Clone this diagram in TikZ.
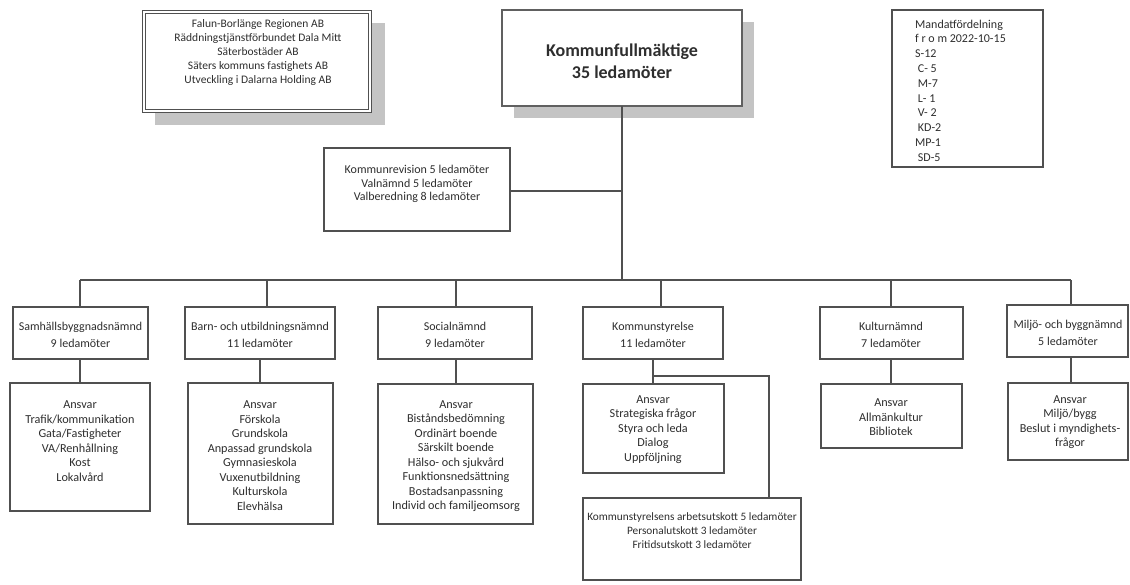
\documentclass[tikz,border=0pt]{standalone}
\usepackage{fontspec}
\setmainfont{Carlito}
\definecolor{linec}{HTML}{505050}
\definecolor{textc}{HTML}{2E2E2E}
\definecolor{shadowc}{HTML}{C4C4C4}
\newcommand\fsub{\fontsize{11.5}{13.8}\selectfont}
\newcommand\frev{\fontsize{12}{13.6}\selectfont}
\newcommand\fkf{\fontsize{18}{22}\selectfont\bfseries}
\newcommand\fcom{\fontsize{12}{17}\selectfont}
\newcommand\fans{\fontsize{12.2}{14.5}\selectfont}
\newcommand\fmand{\fontsize{12}{14.8}\selectfont}
\newcommand\fau{\fontsize{11.3}{14}\selectfont}
\newcommand\mkbox[6][]{\node[boxst,#1,minimum width={#4-#2},minimum height={#5-#3}] (#6) at ({(#2+#4)/2},{(#3+#5)/2}) {};}
\tikzset{
  boxst/.style={draw=linec,line width=1.3pt,fill=white,inner sep=0pt,outer sep=0pt},
  conn/.style={draw=linec,line width=1.3pt},
  txt/.style={text=textc,align=center,inner sep=0pt},
}
\begin{document}
\begin{tikzpicture}[x=1pt,y=-1pt]
\useasboundingbox[fill=white] (0,0) rectangle (1130,584);
% shadows
\fill[shadowc] (155,23) rectangle (385,125);
\fill[shadowc] (514,22) rectangle (754,118);
% top boxes
\mkbox[draw=linec,line width=0.9pt,double=white,double distance=2pt]{144}{12}{370}{111}{sub}
\node[txt,font=\fsub] (subt) at (258,52.5) {Falun-Borlänge Regionen AB\\Räddningstjänstförbundet Dala Mitt\\Säterbostäder AB\\Säters kommuns fastighets AB\\Utveckling i Dalarna Holding AB};
\mkbox[line width=2.6pt,draw=gray!75!black]{502}{10}{742}{106}{kf}
\node[txt,font=\fkf] (kft) at (622,61) {Kommunfullmäktige\\35 ledamöter};
\mkbox{892}{10}{1043}{167}{mand}
\node[txt,font=\fmand,align=left,anchor=west] (mandt) at (915,90.5) {Mandatfördelning\\f r o m 2022-10-15\\S-12\\\ C- 5\\\ M-7\\\ L- 1\\\ V- 2\\\ KD-2\\MP-1\\\ SD-5};
\mkbox{324}{148}{510}{231}{rev}
\node[txt,font=\frev] (revt) at (417,184) {Kommunrevision 5 ledamöter\\Valnämnd 5 ledamöter\\Valberedning 8 ledamöter};
% bus
\coordinate (busl) at (80,280);
\coordinate (busr) at (1071,280);
\coordinate (kfb) at (622,280);
\draw[conn] (kf.south) -- (kfb);
\draw[conn] (busl) -- (busr);
\draw[conn] (rev.east |- 0,191) -- (kf.south |- 0,191);
% committees
\mkbox{13}{307}{148}{359}{c1}
\mkbox{185}{307}{335}{359}{c2}
\mkbox{378}{307}{532}{359}{c3}
\mkbox{583}{307}{723}{359}{c4}
\mkbox{820}{307}{963}{359}{c5}
\mkbox{1007}{305}{1128}{357}{c6}
\node[txt,font=\fcom] (c1t) at (80.5,334.5) {Samhällsbyggnadsnämnd\\9 ledamöter};
\node[txt,font=\fcom] (c2t) at (260,334.5) {Barn- och utbildningsnämnd\\11 ledamöter};
\node[txt,font=\fcom] (c3t) at (455,334.5) {Socialnämnd\\9 ledamöter};
\node[txt,font=\fcom] (c4t) at (653,334.5) {Kommunstyrelse\\11 ledamöter};
\node[txt,font=\fcom] (c5t) at (891,334.5) {Kulturnämnd\\7 ledamöter};
\node[txt,font=\fcom] (c6t) at (1068,332.5) {Miljö- och byggnämnd\\5 ledamöter};
\foreach \bx/\c in {80/c1,267/c2,456/c3,661/c4,891/c5,1071/c6}{
  \coordinate (b\c) at (\bx,280);
  \draw[conn] (b\c) -- (b\c |- \c.north);
}
% ansvar boxes
\mkbox{10}{383}{150}{511}{a1}
\mkbox{188}{383}{333}{524}{a2}
\mkbox{378}{384}{533}{524}{a3}
\mkbox{583}{384}{724}{473}{a4}
\mkbox{821}{384}{962}{448}{a5}
\mkbox{1008}{383}{1128}{460}{a6}
\node[txt,font=\fans] (a1t) at (80,441) {Ansvar\\Trafik/kommunikation\\Gata/Fastigheter\\VA/Renhållning\\Kost\\Lokalvård};
\node[txt,font=\fans] (a2t) at (260,455.5) {Ansvar\\Förskola\\Grundskola\\Anpassad grundskola\\Gymnasieskola\\Vuxenutbildning\\Kulturskola\\Elevhälsa};
\node[txt,font=\fans] (a3t) at (456,456) {Ansvar\\Biståndsbedömning\\Ordinärt boende\\Särskilt boende\\Hälso- och sjukvård\\Funktionsnedsättning\\Bostadsanpassning\\Individ och familjeomsorg};
\node[txt,font=\fans] (a4t) at (653,429.5) {Ansvar\\Strategiska frågor\\Styra och leda\\Dialog\\Uppföljning};
\node[txt,font=\fans] (a5t) at (891,417.5) {Ansvar\\Allmänkultur\\Bibliotek};
\node[txt,font=\fans] (a6t) at (1070,422) {Ansvar\\Miljö/bygg\\Beslut i myndighets-\\frågor};
\foreach \ax/\i in {80/1,260/2,456/3,653/4,891/5,1071/6}{
  \draw[conn] (c\i.south -| \ax,0) -- (a\i.north -| \ax,0);
}
% KS arbetsutskott
\mkbox{583}{498}{801}{580}{au}
\node[txt,font=\fau] (aut) at (692,531) {Kommunstyrelsens arbetsutskott 5 ledamöter\\Personalutskott 3 ledamöter\\Fritidsutskott 3 ledamöter};
\coordinate (ksj) at (654,376);
\coordinate (ksr) at (769,376);
\draw[conn] (ksj) -- (ksr) -- (ksr |- au.north);
\end{tikzpicture}
\end{document}
